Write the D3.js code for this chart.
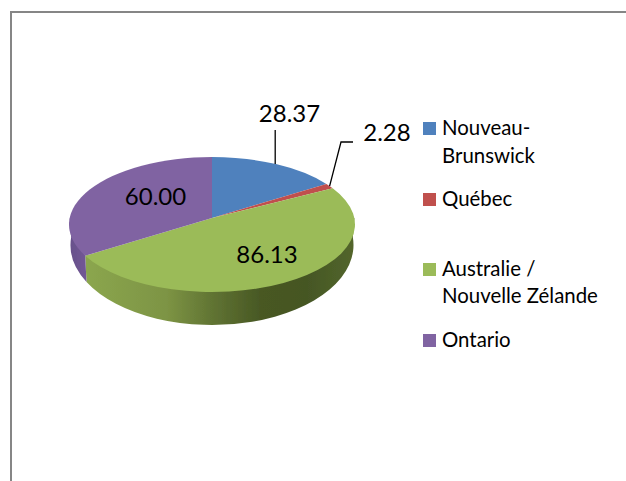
<!DOCTYPE html>
<html><head><meta charset="utf-8">
<script src="https://cdnjs.cloudflare.com/ajax/libs/d3/7.8.5/d3.min.js"></script>
<style>html,body{margin:0;padding:0;background:#fff}svg{display:block}text{font-family:Lato,"Open Sans",sans-serif;fill:#000}</style>
</head><body><div id="chart"></div>
<script>
const categories=["Nouveau-Brunswick","Québec","Australie / Nouvelle Zélande","Ontario"];
const values=[28.37,2.28,86.13,60.00];
const valueLabels=["28.37","2.28","86.13","60.00"];
const colors=["#4f81bd","#c0504d","#9bbb59","#8064a2"];
const legendLines=[["Nouveau-","Brunswick"],["Québec"],["Australie /","Nouvelle Zélande"],["Ontario"]];

const W=626,H=481;
const svg=d3.select("#chart").append("svg").attr("width",W).attr("height",H);
const defs=svg.append("defs");
defs.append("filter").attr("id","soft").attr("x","-5%").attr("y","-5%").attr("width","110%").attr("height","110%")
  .append("feGaussianBlur").attr("stdDeviation",0.6);
const g1=defs.append("linearGradient").attr("id","sideGreen").attr("gradientUnits","userSpaceOnUse")
  .attr("x1",86).attr("x2",355).attr("y1",0).attr("y2",0);
[[0,"#8ba64e"],[0.3,"#7d9444"],[0.48,"#5f7232"],[0.65,"#485824"],[0.82,"#455624"],[1,"#53662c"]]
  .forEach(s=>g1.append("stop").attr("offset",s[0]).attr("stop-color",s[1]));
const g2=defs.append("linearGradient").attr("id","sidePurple").attr("gradientUnits","userSpaceOnUse")
  .attr("x1",69).attr("x2",90).attr("y1",0).attr("y2",0);
[[0,"#67508a"],[1,"#745998"]].forEach(s=>g2.append("stop").attr("offset",s[0]).attr("stop-color",s[1]));

// chart frame (open on right and bottom)
svg.append("path").attr("d",d3.line()([[11,481],[11,12],[626,12]]))
  .attr("fill","none").attr("stroke","#868686").attr("stroke-width",2);

// top ellipse, apex (pie centre seen in perspective), bottom outline
const cx=212,cy=224.5,rx=143,ry=67.5,apexY=218;
const cyB=245,rxB=141.5,ryB=80;
const persp=5.5*Math.PI/180;
const warp=a=>a-persp*Math.sin(a);
const pt=a=>{const w=warp(a);return [cx+rx*Math.sin(w),cy-ry*Math.cos(w)];};
const ptB=a=>{const w=warp(a);return [cx+rxB*Math.sin(w),cyB-ryB*Math.cos(w)];};
const arcs=d3.pie().sort(null)(values);
const pieG=svg.append("g").attr("filter","url(#soft)");

function sidePath(a0,a1){
  const t0=pt(a0),t1=pt(a1),b0=ptB(a0),b1=ptB(a1);
  return `M${t0}L${b0}A${rxB},${ryB} 0 0 1 ${b1}L${t1}Z`;
}
// visible side: from right extreme (pi/2) to left extreme (3pi/2)
const greenEnd=arcs[2].endAngle;
pieG.append("path").attr("d",sidePath(Math.PI/2,greenEnd)).attr("fill","url(#sideGreen)");
pieG.append("path").attr("d",sidePath(greenEnd,3*Math.PI/2)).attr("fill","url(#sidePurple)");
pieG.selectAll("path.top").data(arcs).join("path").attr("class","top")
  .attr("fill",(d,i)=>colors[i])
  .attr("d",d=>{
    const p0=pt(d.startAngle),p1=pt(d.endAngle);
    const large=warp(d.endAngle)-warp(d.startAngle)>Math.PI?1:0;
    return `M${cx},${apexY}L${p0}A${rx},${ry} 0 ${large} 1 ${p1}Z`;
  });

// leader lines
const line=d3.line();
const a1=(arcs[0].startAngle+arcs[0].endAngle)/2;
const a2=(arcs[1].startAngle+arcs[1].endAngle)/2;
const p1=pt(a1),p2=pt(a2);
svg.append("path").attr("d",line([[p1[0],130],p1])).attr("fill","none").attr("stroke","#000").attr("stroke-width",1.3);
svg.append("path").attr("d",line([[353,142],[341,142],p2])).attr("fill","none").attr("stroke","#000").attr("stroke-width",1.3);

// value labels
const labelPos=[[289.5,122],[387,141],[267,263],[155.5,205]];
svg.selectAll("text.val").data(valueLabels).join("text").attr("class","val")
  .attr("x",(d,i)=>labelPos[i][0]).attr("y",(d,i)=>labelPos[i][1])
  .attr("text-anchor","middle").attr("font-size",24).text(d=>d);

// legend
const swY=[122,193,263,334];
const baseY=[[135,163],[206],[276,303],[347]];
const leg=svg.selectAll("g.leg").data(categories).join("g").attr("class","leg");
leg.append("rect").attr("x",423).attr("width",13).attr("height",13)
  .attr("y",(d,i)=>swY[i]).attr("fill",(d,i)=>colors[i]);
leg.each(function(d,i){
  d3.select(this).selectAll("text").data(legendLines[i]).join("text")
    .attr("x",442).attr("y",(t,j)=>baseY[i][j]).attr("font-size",20.4).text(t=>t);
});
</script></body></html>
